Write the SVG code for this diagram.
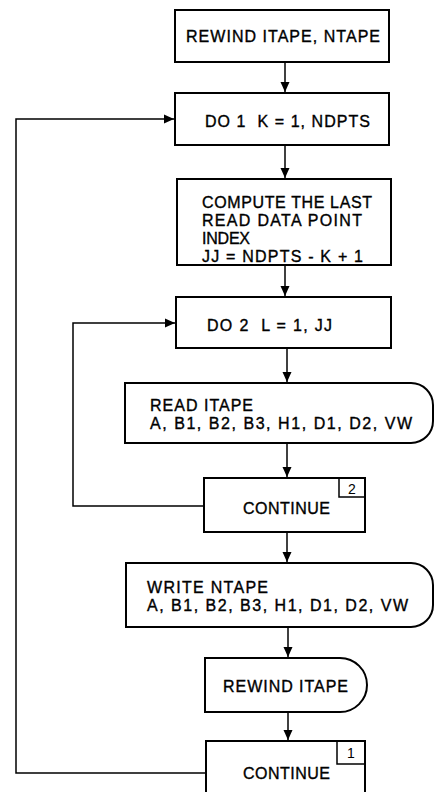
<svg xmlns="http://www.w3.org/2000/svg" width="435" height="792" viewBox="0 0 435 792">
<style>
  .box { fill: #fff; stroke: #000; stroke-width: 2; }
  .num { fill: none; stroke: #000; stroke-width: 1.5; }
  .t { font-family: "Liberation Sans", Arial, sans-serif; font-size: 16px; fill: #000; stroke: #000; stroke-width: 0.35; }
  .n { font-family: "Liberation Sans", Arial, sans-serif; font-size: 14px; fill: #000; text-anchor: middle; }
  .c { fill: none; stroke: #000; stroke-width: 1.5; }
</style>
<defs>
  <marker id="ah" viewBox="0 0 10 10" refX="10" refY="5" markerWidth="10" markerHeight="10" markerUnits="userSpaceOnUse" orient="auto">
    <path d="M0,0.5 L10,5 L0,9.5 Z" fill="#000"/>
  </marker>
</defs>
<rect width="435" height="792" fill="#fff"/>
<g id="connectors">
  <line class="c" x1="285" y1="62" x2="285" y2="92" marker-end="url(#ah)"/>
  <line class="c" x1="285" y1="145" x2="285" y2="178" marker-end="url(#ah)"/>
  <line class="c" x1="285" y1="265" x2="285" y2="296" marker-end="url(#ah)"/>
  <line class="c" x1="287" y1="348" x2="287" y2="382" marker-end="url(#ah)"/>
  <line class="c" x1="287" y1="443" x2="287" y2="477" marker-end="url(#ah)"/>
  <line class="c" x1="287" y1="532" x2="287" y2="562" marker-end="url(#ah)"/>
  <line class="c" x1="288" y1="627" x2="288" y2="657" marker-end="url(#ah)"/>
  <line class="c" x1="288" y1="712" x2="288" y2="740" marker-end="url(#ah)"/>
  <polyline class="c" points="204,506 73,506 73,323 175,323" marker-end="url(#ah)"/>
  <polyline class="c" points="206,773 16,773 16,119 174,119" marker-end="url(#ah)"/>
</g>
<g id="n_rewind_both">
  <rect class="box" x="175" y="10" width="214" height="52"/>
  <text class="t" x="186" y="42" textLength="194">REWIND ITAPE, NTAPE</text>
</g>
<g id="n_do1">
  <rect class="box" x="175" y="93" width="214" height="52"/>
  <text class="t" x="205" y="127" textLength="165" xml:space="preserve">DO 1  K = 1, NDPTS</text>
</g>
<g id="n_compute">
  <rect class="box" x="177" y="179" width="214" height="86"/>
  <text class="t" x="202" y="208" textLength="170">COMPUTE THE LAST</text>
  <text class="t" x="202" y="226" textLength="160">READ DATA POINT</text>
  <text class="t" x="202" y="244" textLength="48">INDEX</text>
  <text class="t" x="202" y="262" textLength="161">JJ = NDPTS - K + 1</text>
</g>
<g id="n_do2">
  <rect class="box" x="176" y="297" width="215" height="51"/>
  <text class="t" x="207" y="331" textLength="125" xml:space="preserve">DO 2  L = 1, JJ</text>
</g>
<g id="n_read">
  <path class="box" d="M125,383 H411 A22,22 0 0 1 433,405 V421 A22,22 0 0 1 411,443 H125 Z"/>
  <text class="t" x="150" y="411" textLength="103">READ ITAPE</text>
  <text class="t" x="150" y="429" textLength="262">A, B1, B2, B3, H1, D1, D2, VW</text>
</g>
<g id="n_continue2">
  <rect class="box" x="204" y="478" width="161" height="54"/>
  <rect class="num" x="339" y="478" width="26" height="19"/>
  <text class="n" x="352" y="494">2</text>
  <text class="t" x="243" y="514" textLength="87">CONTINUE</text>
</g>
<g id="n_write">
  <path class="box" d="M126,563 H411 A22,22 0 0 1 433,585 V605 A22,22 0 0 1 411,627 H126 Z"/>
  <text class="t" x="147" y="593" textLength="121">WRITE NTAPE</text>
  <text class="t" x="147" y="611" textLength="261">A, B1, B2, B3, H1, D1, D2, VW</text>
</g>
<g id="n_rewind_itape">
  <path class="box" d="M205,658 H340 A27,27 0 0 1 340,712 H205 Z"/>
  <text class="t" x="223" y="692" textLength="125">REWIND ITAPE</text>
</g>
<g id="n_continue1">
  <rect class="box" x="206" y="741" width="159" height="64"/>
  <rect class="num" x="337" y="741" width="28" height="23"/>
  <text class="n" x="351" y="758">1</text>
  <text class="t" x="243" y="779" textLength="87">CONTINUE</text>
</g>
</svg>
